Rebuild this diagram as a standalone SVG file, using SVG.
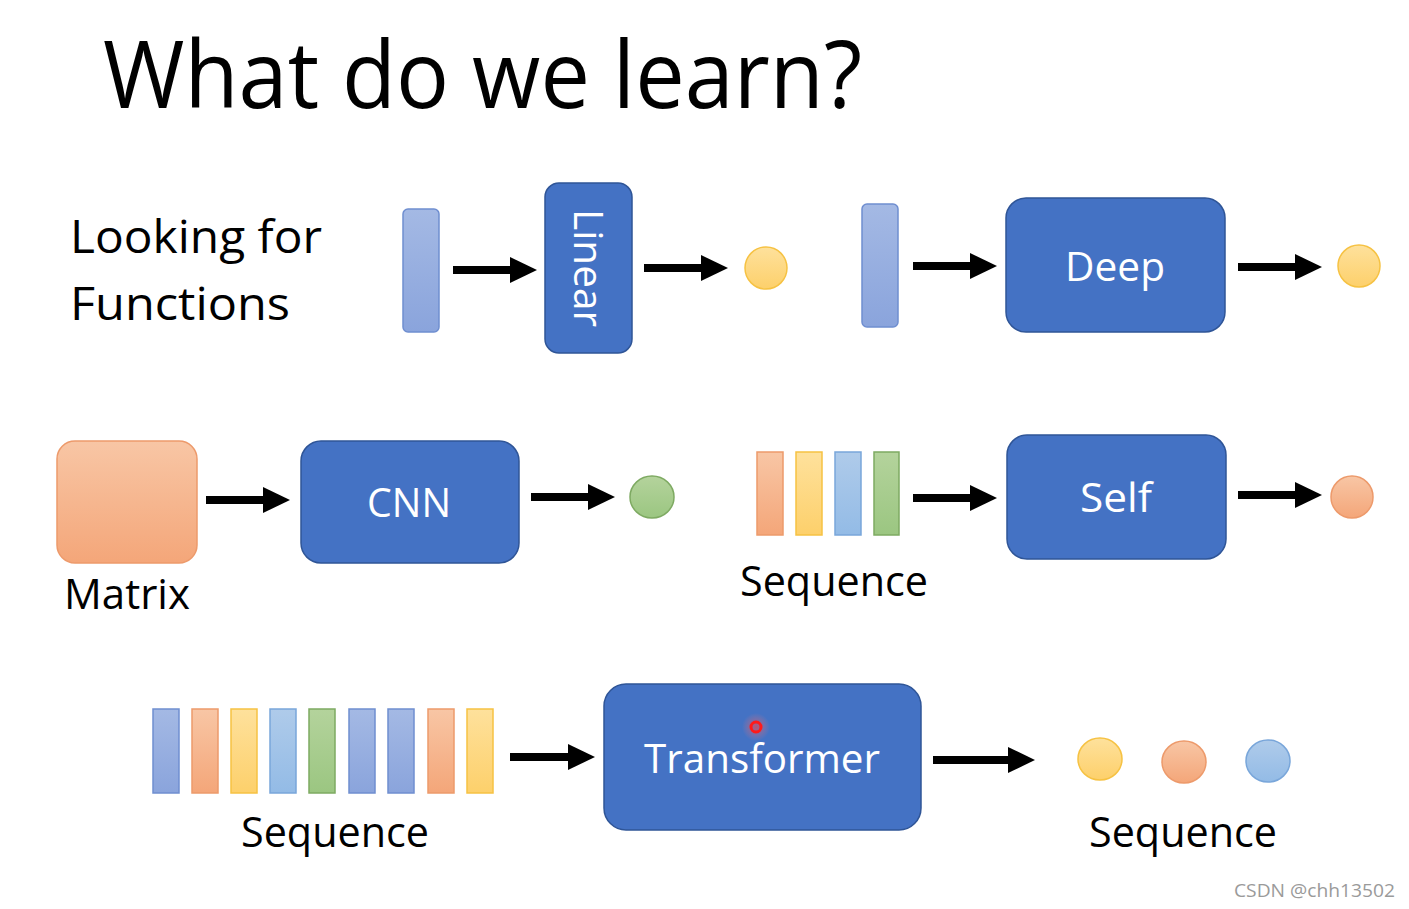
<svg xmlns="http://www.w3.org/2000/svg" width="1409" height="909" viewBox="0 0 1409 909">
<defs>
<marker id="ah" markerUnits="userSpaceOnUse" markerWidth="28" markerHeight="28" refX="0" refY="13" orient="auto" viewBox="0 0 28 28">
<path d="M0,0 L27,13 L0,26 Z" fill="#000"/>
</marker>
<linearGradient id="gOr" x1="0" y1="0" x2="0" y2="1"><stop offset="0" stop-color="#f8c6a5"/><stop offset="1" stop-color="#f4a679"/></linearGradient>
<linearGradient id="gYe" x1="0" y1="0" x2="0" y2="1"><stop offset="0" stop-color="#fee19c"/><stop offset="1" stop-color="#fdd06b"/></linearGradient>
<linearGradient id="gBl" x1="0" y1="0" x2="0" y2="1"><stop offset="0" stop-color="#a4b9e4"/><stop offset="1" stop-color="#8aa4dc"/></linearGradient>
<linearGradient id="gLb" x1="0" y1="0" x2="0" y2="1"><stop offset="0" stop-color="#afcbea"/><stop offset="1" stop-color="#93bbe6"/></linearGradient>
<linearGradient id="gGr" x1="0" y1="0" x2="0" y2="1"><stop offset="0" stop-color="#b4d39c"/><stop offset="1" stop-color="#9bc681"/></linearGradient>
<radialGradient id="glow"><stop offset="0" stop-color="#ff4040" stop-opacity="0.6"/><stop offset="1" stop-color="#ff8080" stop-opacity="0"/></radialGradient>
</defs>
<style>
.t{font-family:"Open Sans","Liberation Sans",sans-serif;fill:#000}
.w{font-family:"Open Sans","Liberation Sans",sans-serif;fill:#fff;text-anchor:middle}
.box{fill:#4472c4;stroke:#2f5597;stroke-width:1.5}
.or{fill:url(#gOr);stroke:#ed9a6b;stroke-width:1.5}
.ye{fill:url(#gYe);stroke:#f6c243;stroke-width:1.5}
.bl{fill:url(#gBl);stroke:#6f8ed0;stroke-width:1.5}
.lb{fill:url(#gLb);stroke:#79a6da;stroke-width:1.5}
.gr{fill:url(#gGr);stroke:#7eaa62;stroke-width:1.5}
.ar{stroke:#000;stroke-width:8;fill:none;marker-end:url(#ah)}
</style>
<rect width="1409" height="909" fill="#fff"/>
<text class="t" x="103" y="108" font-size="94" textLength="759" lengthAdjust="spacingAndGlyphs">What do we learn?</text>
<text class="t" x="70" y="253" font-size="46" textLength="252" lengthAdjust="spacingAndGlyphs">Looking for</text>
<text class="t" x="70" y="320" font-size="46" textLength="220" lengthAdjust="spacingAndGlyphs">Functions</text>

<g id="connectors">
<line class="ar" x1="453" y1="270" x2="510" y2="270"/>
<line class="ar" x1="644" y1="268" x2="701" y2="268"/>
<line class="ar" x1="913" y1="266" x2="970" y2="266"/>
<line class="ar" x1="1238" y1="267" x2="1295" y2="267"/>
<line class="ar" x1="206" y1="500" x2="263" y2="500"/>
<line class="ar" x1="531" y1="497" x2="588" y2="497"/>
<line class="ar" x1="913" y1="498" x2="970" y2="498"/>
<line class="ar" x1="1238" y1="495" x2="1295" y2="495"/>
<line class="ar" x1="510" y1="757" x2="568" y2="757"/>
<line class="ar" x1="933" y1="760" x2="1008" y2="760"/>
</g>

<g id="vec1"><rect class="bl" x="403" y="209" width="36" height="123" rx="5"/></g>
<g id="linear"><rect class="box" x="545" y="183" width="87" height="170" rx="14"/>
<text class="w" font-size="40" transform="translate(574,268) rotate(90)" textLength="118" lengthAdjust="spacingAndGlyphs">Linear</text></g>
<g id="out1"><circle class="ye" cx="766" cy="268" r="21"/></g>
<g id="vec2"><rect class="bl" x="862" y="204" width="36" height="123" rx="5"/></g>
<g id="deep"><rect class="box" x="1006" y="198" width="219" height="134" rx="20"/>
<text class="w" x="1115" y="281" font-size="40" textLength="100" lengthAdjust="spacingAndGlyphs">Deep</text></g>
<g id="out2"><circle class="ye" cx="1359" cy="266" r="21"/></g>

<g id="matrix"><rect class="or" x="57" y="441" width="140" height="122" rx="18"/>
<text class="t" x="64" y="609" font-size="42" textLength="126" lengthAdjust="spacingAndGlyphs">Matrix</text></g>
<g id="cnn"><rect class="box" x="301" y="441" width="218" height="122" rx="20"/>
<text class="w" x="409" y="517" font-size="41" textLength="84" lengthAdjust="spacingAndGlyphs">CNN</text></g>
<g id="out3"><ellipse class="gr" cx="652" cy="497" rx="22" ry="21"/></g>

<g id="seq1">
<rect class="or" x="757" y="452" width="26" height="83"/>
<rect class="ye" x="796" y="452" width="26" height="83"/>
<rect class="lb" x="835" y="452" width="26" height="83"/>
<rect class="gr" x="874" y="452" width="25" height="83"/>
<text class="t" x="740" y="596" font-size="42" textLength="188" lengthAdjust="spacingAndGlyphs">Sequence</text>
</g>
<g id="self"><rect class="box" x="1007" y="435" width="219" height="124" rx="20"/>
<text class="w" x="1116" y="512" font-size="41" textLength="72" lengthAdjust="spacingAndGlyphs">Self</text></g>
<g id="out4"><ellipse class="or" cx="1352" cy="497" rx="21" ry="21"/></g>

<g id="seq2">
<rect class="bl" x="153" y="709" width="26" height="84"/>
<rect class="or" x="192" y="709" width="26" height="84"/>
<rect class="ye" x="231" y="709" width="26" height="84"/>
<rect class="lb" x="270" y="709" width="26" height="84"/>
<rect class="gr" x="309" y="709" width="26" height="84"/>
<rect class="bl" x="349" y="709" width="26" height="84"/>
<rect class="bl" x="388" y="709" width="26" height="84"/>
<rect class="or" x="428" y="709" width="26" height="84"/>
<rect class="ye" x="467" y="709" width="26" height="84"/>
<text class="t" x="241" y="847" font-size="42" textLength="188" lengthAdjust="spacingAndGlyphs">Sequence</text>
</g>
<g id="transformer"><rect class="box" x="604" y="684" width="317" height="146" rx="22"/>
<text class="w" x="762" y="773" font-size="41" textLength="236" lengthAdjust="spacingAndGlyphs">Transformer</text>
<circle cx="756" cy="727" r="14" fill="url(#glow)"/>
<circle cx="756" cy="727" r="5" fill="none" stroke="#ff1a1a" stroke-width="3"/>
</g>
<g id="seq3">
<ellipse class="ye" cx="1100" cy="759" rx="22" ry="21"/>
<ellipse class="or" cx="1184" cy="762" rx="22" ry="21"/>
<ellipse class="lb" cx="1268" cy="761" rx="22" ry="21"/>
<text class="t" x="1089" y="847" font-size="42" textLength="188" lengthAdjust="spacingAndGlyphs">Sequence</text>
</g>
<text x="1234" y="897" font-family="Open Sans, Liberation Sans, sans-serif" font-size="18" fill="#9a9a9a" textLength="161" lengthAdjust="spacingAndGlyphs">CSDN @chh13502</text>
</svg>
